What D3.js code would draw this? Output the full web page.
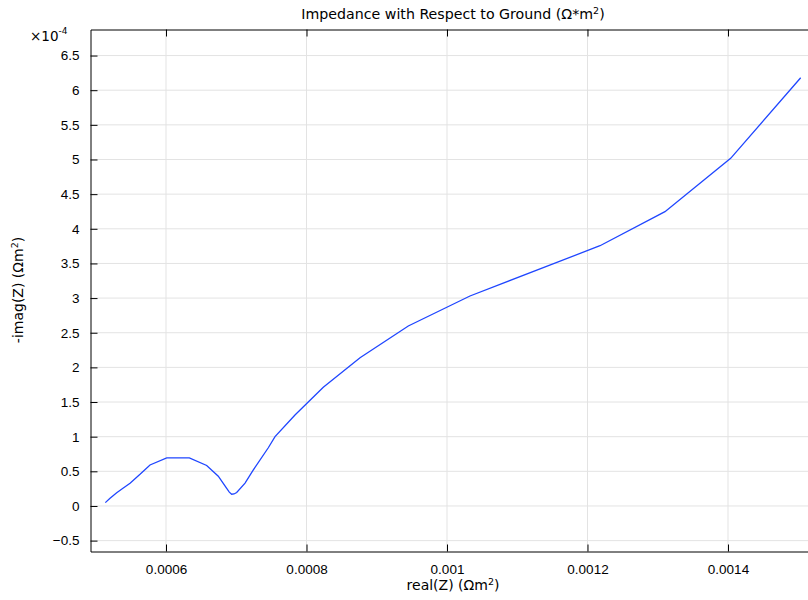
<!DOCTYPE html>
<html>
<head>
<meta charset="utf-8">
<script src="https://cdn.jsdelivr.net/npm/d3@7"></script>
<style>
  body { margin: 0; background: #fff; }
  svg { font-family: "DejaVu Sans", sans-serif; }
</style>
</head>
<body>
<svg width="808" height="600"></svg>
<script>
// real part of Z (ohm*m^2)
let realZ = [0.0005136, 0.0005203, 0.0005298, 0.0005392, 0.0005488, 0.000563, 0.0005772,
  0.000601, 0.0006332, 0.0006579, 0.0006744, 0.0006864, 0.0006901, 0.0006935, 0.0006968,
  0.0007006, 0.0007125, 0.0007243, 0.0007456, 0.0007552, 0.0007836, 0.0008239, 0.0008762,
  0.0009449, 0.0010327, 0.0012178, 0.0013103, 0.0014038, 0.0015035];
// -imag(Z), in units of 1e-4
let negImagZ = [0.048, 0.111, 0.192, 0.26, 0.328, 0.457, 0.592,
  0.693, 0.693, 0.585, 0.43, 0.255, 0.2, 0.169, 0.173,
  0.195, 0.33, 0.52, 0.84, 1.0, 1.313, 1.713, 2.14,
  2.597, 3.03, 3.756, 4.247, 5.017, 6.18];

let xTicks = [0.0006, 0.0008, 0.001, 0.0012, 0.0014];
let xTickLabels = ["0.0006", "0.0008", "0.001", "0.0012", "0.0014"];
let yTicks = [-0.5, 0, 0.5, 1, 1.5, 2, 2.5, 3, 3.5, 4, 4.5, 5, 5.5, 6, 6.5];

let svg = d3.select('svg');

let plotL = 90.5, plotR = 808, plotT = 29.5, plotB = 551.5;

let x = d3.scaleLinear().domain([0.0004925, 0.0015139]).range([plotL, plotR]);
let y = d3.scaleLinear().domain([-0.657, 6.876]).range([plotB, plotT]);

// grid
svg.append('g')
  .selectAll('line')
  .data(xTicks)
  .enter()
  .append('line')
  .attr('x1', d => x(d)).attr('x2', d => x(d))
  .attr('y1', plotT).attr('y2', plotB)
  .attr('stroke', '#e3e3e3');

svg.append('g')
  .selectAll('line')
  .data(yTicks)
  .enter()
  .append('line')
  .attr('x1', plotL).attr('x2', plotR)
  .attr('y1', d => y(d)).attr('y2', d => y(d))
  .attr('stroke', '#e3e3e3');

// axes, ticks pointing inward
let xAxis = d3.axisBottom(x).tickValues(xTicks)
  .tickFormat((d, i) => xTickLabels[i]).tickSizeInner(-7).tickSizeOuter(0).tickPadding(13);
svg.append('g')
  .attr('transform', `translate(0,${plotB})`)
  .call(xAxis)
  .call(g => g.selectAll('text').attr('font-size', '13.5px').attr('fill', '#000'));

let topAxis = d3.axisTop(x).tickValues(xTicks).tickFormat('').tickSizeInner(-7).tickSizeOuter(0);
svg.append('g')
  .attr('transform', `translate(0,${plotT})`)
  .call(topAxis);

let yAxis = d3.axisLeft(y).tickValues(yTicks)
  .tickFormat(d3.format('')).tickSizeInner(-7).tickSizeOuter(0).tickPadding(11);
svg.append('g')
  .attr('transform', `translate(${plotL},0)`)
  .call(yAxis)
  .call(g => g.selectAll('text').attr('font-size', '13.5px').attr('fill', '#000'));

svg.selectAll('.domain').attr('stroke', '#000');
svg.selectAll('.tick line').attr('stroke', '#000');

// the curve
let points = realZ.map((r, i) => [r, negImagZ[i]]);
svg.append('path')
  .datum(points)
  .attr('fill', 'none')
  .attr('stroke', '#1f46ff')
  .attr('stroke-width', 1.3)
  .attr('d', d3.line().x(d => x(d[0])).y(d => y(d[1])));

// texts
svg.append('text')
  .attr('x', 453).attr('y', 19)
  .attr('text-anchor', 'middle')
  .attr('font-size', '14.2px')
  .html('Impedance with Respect to Ground (Ω*m<tspan dy="-5" font-size="9.5px">2</tspan><tspan dy="5">)</tspan>');

svg.append('text')
  .attr('x', 453).attr('y', 590)
  .attr('text-anchor', 'middle')
  .attr('font-size', '14px')
  .html('real(Z) (Ωm<tspan dy="-5" font-size="9.5px">2</tspan><tspan dy="5">)</tspan>');

svg.append('text')
  .attr('transform', 'translate(23,290) rotate(-90)')
  .attr('text-anchor', 'middle')
  .attr('font-size', '14px')
  .html('-imag(Z) (Ωm<tspan dy="-5" font-size="9.5px">2</tspan><tspan dy="5">)</tspan>');

svg.append('text')
  .attr('x', 30).attr('y', 41)
  .attr('font-size', '13.5px')
  .html('×10<tspan dy="-7" font-size="9px">-4</tspan>');
</script>
</body>
</html>
